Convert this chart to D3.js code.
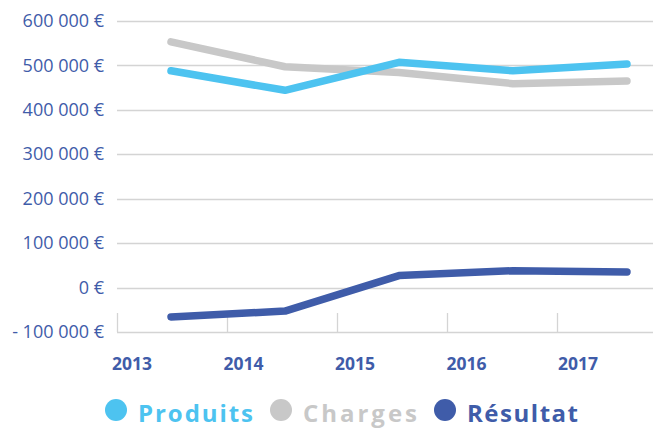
<!DOCTYPE html>
<html>
<head>
<meta charset="utf-8">
<script src="https://cdn.jsdelivr.net/npm/d3@7"></script>
<style>
  body { margin: 0; background: #fff; }
  svg { display: block; }
</style>
</head>
<body>
<div id="chart"></div>
<script>
'use strict';

const years = ['2013', '2014', '2015', '2016', '2017'];
const produits = [488000, 444000, 507000, 488000, 503000];
const charges = [553000, 497000, 484000, 459000, 465000];
const resultat = [-66000, -53000, 27000, 38000, 35000];
const yTicks = [-100000, 0, 100000, 200000, 300000, 400000, 500000, 600000];
const seriesNames = ['Produits', 'Charges', 'Résultat'];

const width = 653;
const height = 429;
const colors = ['#4dc3f0', '#c8c8c8', '#3f5ca9'];
const textColor = '#3f5ca9';
// legend label widths, the original font is wider than Open Sans
const legendWidths = [115, 114, 111];

const svg = d3.select('#chart').append('svg')
  .attr('width', width)
  .attr('height', height);

const yScale = d3.scaleLinear()
  .domain([-100000, 600000])
  .range([332, 21]);

// tick marks, labels and points are not aligned in the original, so each gets its own scale
const xTick = d3.scalePoint().domain(years).range([117, 557]);
const xLabel = d3.scalePoint().domain(years).range([132, 578]);
const xData = d3.scalePoint().domain(years).range([171, 627]);

const fmt = function (v) {
  const s = d3.format(',')(Math.abs(v)).replace(/,/g, ' ');
  return (v < 0 ? '- ' : '') + s + ' €';
};

// gridlines
svg.append('g')
  .selectAll('line')
  .data(yTicks)
  .join('line')
  .attr('x1', 117)
  .attr('x2', width)
  .attr('y1', d => Math.round(yScale(d)) + 0.5)
  .attr('y2', d => Math.round(yScale(d)) + 0.5)
  .attr('stroke', '#d4d4d4')
  .attr('stroke-width', 1.3);

// x tick marks
svg.append('g')
  .selectAll('line')
  .data(years)
  .join('line')
  .attr('x1', d => Math.round(xTick(d)) + 0.5)
  .attr('x2', d => Math.round(xTick(d)) + 0.5)
  .attr('y1', 313)
  .attr('y2', 332)
  .attr('stroke', '#d4d4d4')
  .attr('stroke-width', 1.3);

// y labels
svg.append('g')
  .selectAll('text')
  .data(yTicks)
  .join('text')
  .attr('x', 104)
  .attr('y', d => yScale(d))
  .attr('dy', '0.34em')
  .attr('text-anchor', 'end')
  .attr('font-family', 'Open Sans')
  .attr('font-size', 18)
  .attr('fill', textColor)
  .text(fmt);

// x labels
svg.append('g')
  .selectAll('text')
  .data(years)
  .join('text')
  .attr('x', d => xLabel(d))
  .attr('y', 370)
  .attr('text-anchor', 'middle')
  .attr('font-family', 'Open Sans')
  .attr('font-weight', 700)
  .attr('font-size', 17.5)
  .attr('fill', textColor)
  .text(d => d);

const line = d3.line()
  .x((d, i) => xData(years[i]))
  .y(d => yScale(d));

const allSeries = [produits, charges, resultat];
// charges drawn beneath produits
[1, 0, 2].forEach(function (k) {
  svg.append('path')
    .datum(allSeries[k])
    .attr('d', line)
    .attr('fill', 'none')
    .attr('stroke', colors[k])
    .attr('stroke-width', 7.5)
    .attr('stroke-linecap', 'round')
    .attr('stroke-linejoin', 'round');
});

// legend
const legend = svg.append('g');
let cx = 116;
seriesNames.forEach(function (name, i) {
  legend.append('circle')
    .attr('cx', cx)
    .attr('cy', 410)
    .attr('r', 11)
    .attr('fill', colors[i]);
  legend.append('text')
    .attr('x', cx + 22)
    .attr('y', 421.5)
    .attr('font-family', 'Open Sans')
    .attr('font-weight', 700)
    .attr('font-size', 24)
    .attr('textLength', legendWidths[i])
    .attr('lengthAdjust', 'spacing')
    .attr('fill', colors[i])
    .text(name);
  cx += 22 + legendWidths[i] + 28;
});
</script>
</body>
</html>
